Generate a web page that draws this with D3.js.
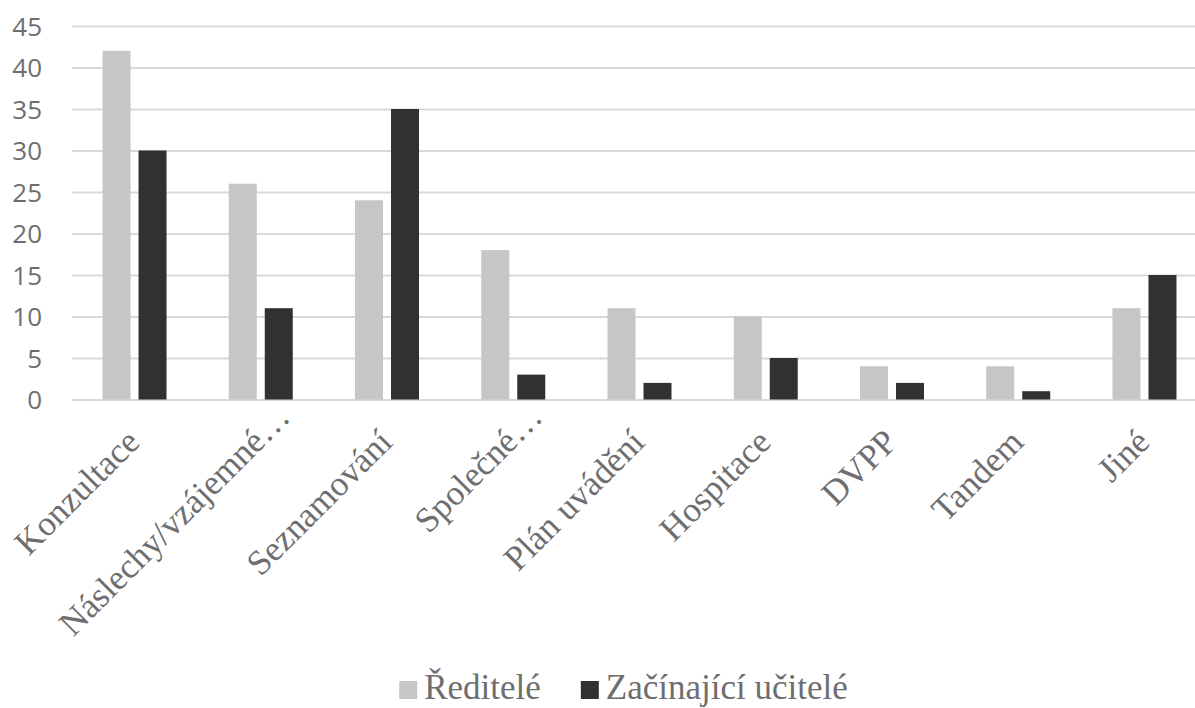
<!DOCTYPE html>
<html>
<head>
<meta charset="utf-8">
<script src="https://cdn.jsdelivr.net/npm/d3@7"></script>
<style>
  html, body { margin: 0; padding: 0; background: #ffffff; }
  svg { display: block; }
</style>
</head>
<body>
<svg id="chart" width="1195" height="708"></svg>
<script>
// Forms of support for beginning teachers: counts reported by each group
const categories = ["Konzultace", "Náslechy/vzájemné…", "Seznamování", "Společné…",
  "Plán uvádění", "Hospitace", "DVPP", "Tandem", "Jiné"];
const seriesNames = ["Ředitelé", "Začínající učitelé"];
const reditele = [42, 26, 24, 18, 11, 10, 4, 4, 11];
const zacinajiciUcitele = [30, 11, 35, 3, 2, 5, 2, 1, 15];
const yTicks = [0, 5, 10, 15, 20, 25, 30, 35, 40, 45];

const colors = ["#c5c6c8", "#323031"];
const textColor = "#6e6e70";
const gridColor = "#d9d9d9";
const serifFont = "'Liberation Serif', 'Times New Roman', serif";

const rows = categories.map((c, i) => ({
  category: c,
  values: [reditele[i], zacinajiciUcitele[i]]
}));

const svg = d3.select("#chart");
const width = 1195, height = 708;

const plot = { left: 71.4, right: 1207.6, top: 26, bottom: 399.5 };

const step = (plot.right - plot.left) / categories.length;
const groupPad = 62.25 / step;

const x0 = d3.scaleBand()
  .domain(categories)
  .range([plot.left, plot.right])
  .paddingInner(groupPad)
  .paddingOuter(groupPad / 2);

const x1 = d3.scaleBand()
  .domain(d3.range(seriesNames.length))
  .range([0, x0.bandwidth()])
  .paddingInner(8 / 36);

const y = d3.scaleLinear()
  .domain([0, 45])
  .range([plot.bottom, plot.top]);

// Horizontal gridlines and value labels
const yAxis = d3.axisLeft(y)
  .tickValues(yTicks)
  .tickSize(-(width - 72))
  .tickFormat(d3.format("d"));

const yg = svg.append("g")
  .attr("transform", "translate(72,0)")
  .call(yAxis);
yg.select(".domain").remove();
yg.selectAll(".tick line")
  .attr("stroke", gridColor)
  .attr("stroke-width", 2);
yg.selectAll(".tick text")
  .attr("x", -30)
  .attr("dy", "0.36em")
  .attr("fill", textColor)
  .attr("font-family", "'Open Sans', sans-serif")
  .attr("font-size", 26);

// Bars
const groups = svg.append("g")
  .selectAll("g")
  .data(rows)
  .join("g")
  .attr("transform", d => `translate(${x0(d.category)},0)`);

groups.selectAll("rect")
  .data(d => d.values.map((v, i) => ({ v, i })))
  .join("rect")
  .attr("x", d => x1(d.i))
  .attr("width", x1.bandwidth())
  .attr("y", d => y(d.v))
  .attr("height", d => y(0) - y(d.v))
  .attr("fill", d => colors[d.i]);

// Category labels, rotated -45 degrees, ending under each group
const xAxis = d3.axisBottom(x0).tickSize(0).tickPadding(0);
const xg = svg.append("g")
  .attr("transform", `translate(0,${plot.bottom})`)
  .call(xAxis);
xg.select(".domain").remove();
xg.attr("font-family", serifFont).attr("font-size", 35);
xg.selectAll(".tick text")
  .attr("fill", textColor)
  .attr("font-family", serifFont)
  .attr("text-anchor", "end")
  .attr("y", 0)
  .attr("dy", 0)
  .attr("font-size", 35)
  .attr("transform", d => {
    const truncated = d.endsWith("…");
    const dx = truncated ? 31 : 7;
    const dy = truncated ? 19.5 : 44.5;
    return `translate(${dx},${dy}) rotate(-45)`;
  });

// Legend
const legend = svg.append("g")
  .attr("font-family", serifFont)
  .attr("font-size", 35);
const items = legend.selectAll("g")
  .data(seriesNames)
  .join("g");
items.append("rect")
  .attr("width", 18)
  .attr("height", 18)
  .attr("y", -18)
  .attr("fill", (d, i) => colors[i]);
items.append("text")
  .attr("x", 25)
  .attr("fill", textColor)
  .attr("font-family", serifFont)
  .attr("font-size", 35)
  .text(d => d);

let cursor = 0;
const offsets = [];
items.each(function () {
  offsets.push(cursor);
  const w = this.getBBox().width;
  cursor += w + 40;
});
const totalW = cursor - 40;
const legendX = 623.5 - totalW / 2;
items.attr("transform", (d, i) => `translate(${legendX + offsets[i]},699)`);
</script>
</body>
</html>
